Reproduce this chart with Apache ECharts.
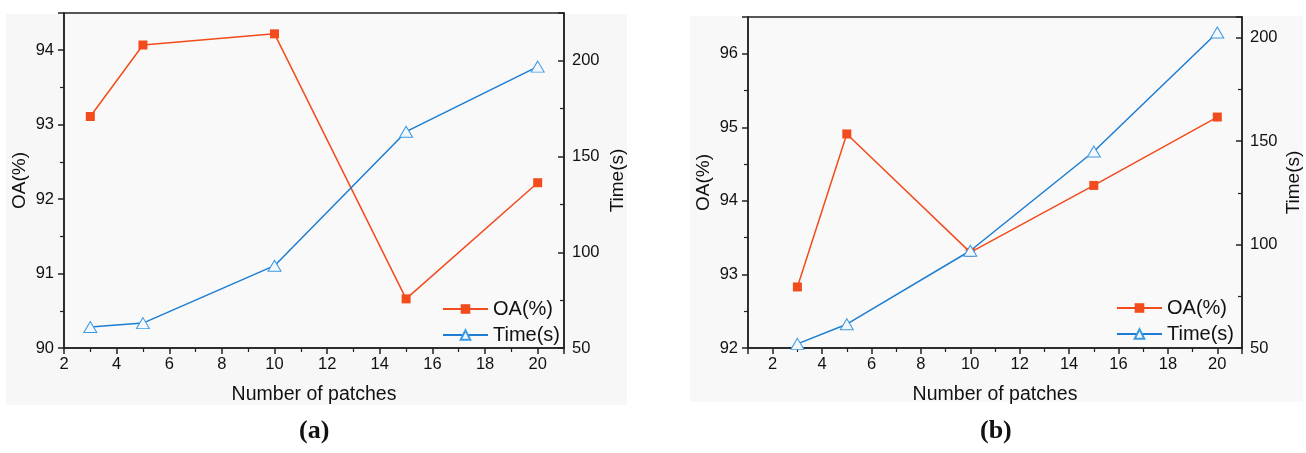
<!DOCTYPE html>
<html>
<head>
<meta charset="utf-8">
<script src="https://cdn.jsdelivr.net/npm/echarts@6/dist/echarts.min.js"></script>
<style>
  html, body { margin: 0; padding: 0; background: #fff; }
  #chart { width: 1306px; height: 453px; }
</style>
</head>
<body>
<div id="chart"></div>
<script>
// patches on the x axis
var patches = [3, 5, 10, 15, 20];

// (a)
var oaA = [93.11, 94.07, 94.22, 90.66, 92.22];
var timeA = [61, 63, 93, 163, 197];

// (b)
var oaB = [92.83, 94.91, 93.30, 94.21, 95.14];
var timeB = [52, 61.5, 97, 145, 202.5];

var red = '#f24b1c';
var blue = '#1c7dd2';
var font = 'Liberation Sans';

function pairs(xs, ys) {
  return xs.map(function (x, i) { return [x, ys[i]]; });
}

function xAxis(grid, min) {
  return {
    type: 'value', gridIndex: grid, min: min, max: 21,
    splitNumber: 10,
    name: 'Number of patches', nameLocation: 'middle', nameGap: 37,
    nameTextStyle: { fontFamily: font, fontSize: 19.5, color: '#111' },
    axisLine: { lineStyle: { color: '#222', width: 1.5 } },
    axisTick: { inside: false, length: 6, lineStyle: { color: '#222', width: 1.5 } },
    minorTick: { show: true, splitNumber: 2, length: 4, lineStyle: { color: '#222', width: 1.2 } },
    axisLabel: {
      fontFamily: font, fontSize: 16.5, color: '#111', margin: 8,
      formatter: function (v) { return v % 2 === 0 ? v : ''; }
    },
    splitLine: { show: false }
  };
}

function leftAxis(grid, min, max, gap) {
  return {
    type: 'value', gridIndex: grid, position: 'left', min: min, max: max, interval: 1,
    name: 'OA(%)', nameLocation: 'middle', nameGap: gap,
    nameTextStyle: { fontFamily: font, fontSize: 19, color: '#111' },
    axisLine: { show: true, lineStyle: { color: '#222', width: 1.5 } },
    axisTick: { inside: false, length: 6, lineStyle: { color: '#222', width: 1.5 } },
    minorTick: { show: true, splitNumber: 2, length: 4, lineStyle: { color: '#222', width: 1.2 } },
    axisLabel: { fontFamily: font, fontSize: 16.5, color: '#111', margin: 10, showMaxLabel: false },
    splitLine: { show: false }
  };
}

function rightAxis(grid, max, gap) {
  return {
    type: 'value', gridIndex: grid, position: 'right', min: 50, max: max, interval: 50,
    name: 'Time(s)', nameLocation: 'middle', nameGap: gap,
    nameTextStyle: { fontFamily: font, fontSize: 19, color: '#111' },
    axisLine: { show: true, lineStyle: { color: '#222', width: 1.5 } },
    axisTick: { inside: true, length: 6, lineStyle: { color: '#222', width: 1.5 } },
    minorTick: { show: true, splitNumber: 2, length: 4, lineStyle: { color: '#222', width: 1.2 } },
    axisLabel: { fontFamily: font, fontSize: 16.5, color: '#111', margin: 8, showMaxLabel: false },
    splitLine: { show: false }
  };
}

function oaSeries(x, y, data) {
  return {
    name: 'OA(%)', type: 'line', xAxisIndex: x, yAxisIndex: y,
    data: data, symbol: 'rect', symbolSize: 9,
    lineStyle: { color: red, width: 1.5 },
    itemStyle: { color: red }
  };
}

function timeSeries(x, y, data) {
  return {
    name: 'Time(s)', type: 'line', xAxisIndex: x, yAxisIndex: y,
    data: data, symbol: 'triangle', symbolSize: [13, 11],
    lineStyle: { color: blue, width: 1.5 },
    itemStyle: { color: '#f4f8fc', borderColor: '#3a9ae4', borderWidth: 1 }
  };
}

function legend(right, top) {
  return {
    orient: 'vertical', right: right, top: top, padding: 0,
    itemWidth: 45, itemHeight: 12, itemGap: 6,
    textStyle: { fontFamily: font, fontSize: 20, color: '#111' },
    data: ['OA(%)', 'Time(s)']
  };
}

var chart = echarts.init(document.getElementById('chart'));
chart.setOption({
  animation: false,
  graphic: [
    { type: 'rect', z: -10, shape: { x: 6, y: 14, width: 621, height: 391 }, style: { fill: '#f7f7f7' } },
    { type: 'rect', z: -10, shape: { x: 690, y: 16, width: 613, height: 386 }, style: { fill: '#f8f8f8' } },
    { type: 'text', left: 299, top: 418, style: { text: '(a)', font: 'bold 26px "Liberation Serif"', fill: '#111' } },
    { type: 'text', left: 980, top: 418, style: { text: '(b)', font: 'bold 26px "Liberation Serif"', fill: '#111' } }
  ],
  grid: [
    { left: 64, top: 13, right: 742, bottom: 105, show: true, borderColor: '#222', borderWidth: 1.5, backgroundColor: '#f9f9f9' },
    { left: 748, top: 17, right: 64, bottom: 105, show: true, borderColor: '#222', borderWidth: 1.5, backgroundColor: '#f9f9f9' }
  ],
  legend: [legend(746, 299), legend(72, 298)],
  xAxis: [xAxis(0, 2), xAxis(1, 1)],
  yAxis: [
    leftAxis(0, 90, 94.5, 35),
    rightAxis(0, 225, 44),
    leftAxis(1, 92, 96.5, 35),
    rightAxis(1, 210, 42)
  ],
  series: [
    oaSeries(0, 0, pairs(patches, oaA)),
    timeSeries(0, 1, pairs(patches, timeA)),
    oaSeries(1, 2, pairs(patches, oaB)),
    timeSeries(1, 3, pairs(patches, timeB))
  ]
});
</script>
</body>
</html>
